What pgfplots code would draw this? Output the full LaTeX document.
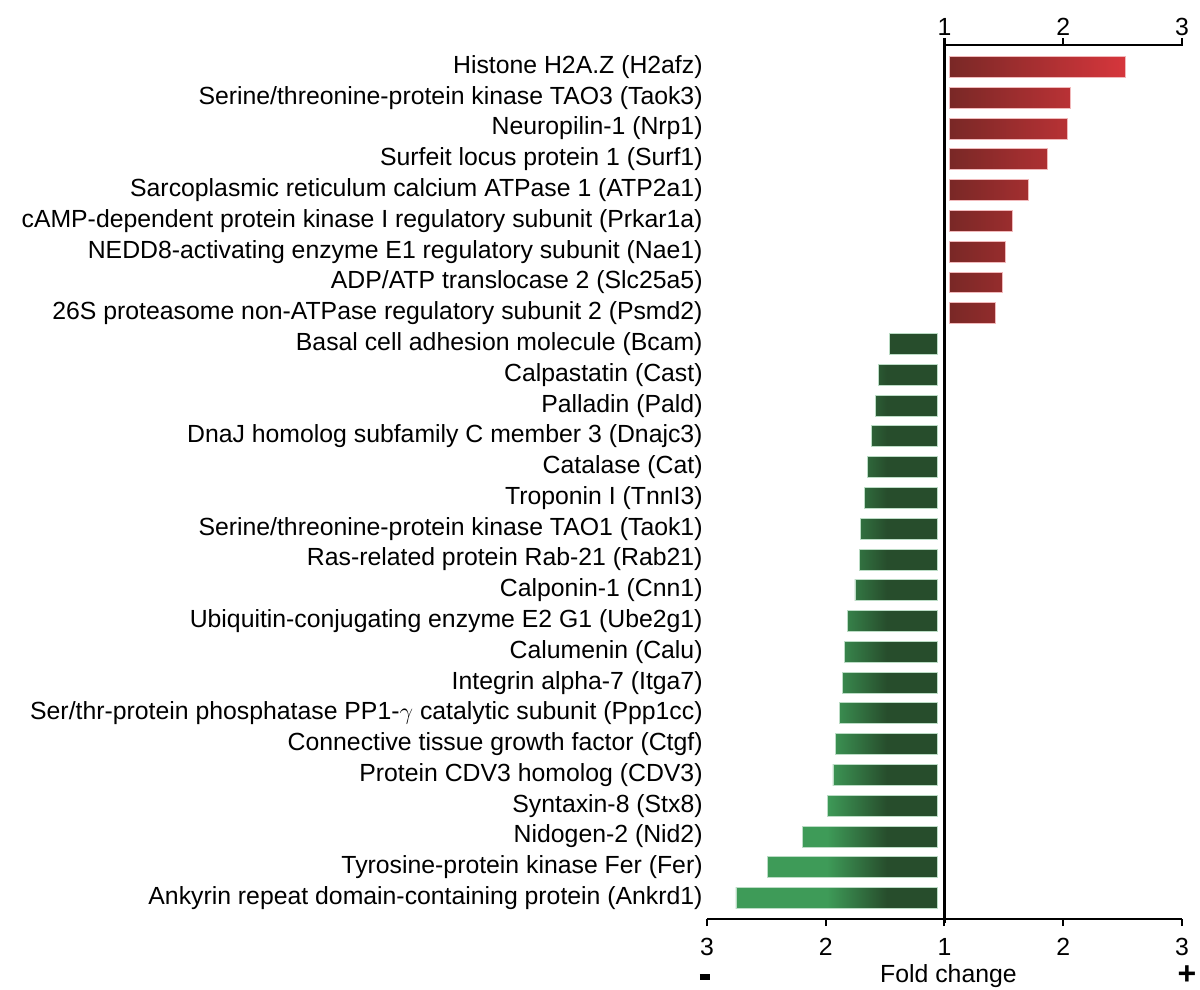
\documentclass[border=0pt]{standalone}
\usepackage{pgfplots}
\pgfplotsset{compat=1.18}
\usepackage{fontspec}
\setmainfont{Liberation Sans}
\definecolor{redL}{RGB}{121,40,38}
\definecolor{redR}{RGB}{214,54,60}
\definecolor{gL}{RGB}{62,155,88}
\definecolor{gD}{RGB}{39,77,44}
% colours of the green bars at their left ends (position on the absolute gradient)
\colorlet{cCast}{gD!86!gL}
\colorlet{cPald}{gD!80!gL}
\colorlet{cDnaj}{gD!75!gL}
\colorlet{cCat}{gD!67!gL}
\colorlet{cTnni}{gD!63!gL}
\colorlet{cTaok}{gD!56!gL}
\colorlet{cRab}{gD!54!gL}
\colorlet{cCnn}{gD!47!gL}
\colorlet{cUbe}{gD!34!gL}
\colorlet{cCalu}{gD!29!gL}
\colorlet{cItga}{gD!25!gL}
\colorlet{cPpp}{gD!20!gL}
\colorlet{cCtgf}{gD!15!gL}
\colorlet{cCdv}{gD!10!gL}
\colorlet{cStx}{gD!1!gL}
\pgfdeclarehorizontalshading{sCast}{100bp}{color(0bp)=(cCast); color(25bp)=(cCast); color(32.3bp)=(gD); color(100bp)=(gD)}
\pgfdeclarehorizontalshading{sPald}{100bp}{color(0bp)=(cPald); color(25bp)=(cPald); color(34.5bp)=(gD); color(100bp)=(gD)}
\pgfdeclarehorizontalshading{sDnaj}{100bp}{color(0bp)=(cDnaj); color(25bp)=(cDnaj); color(36.5bp)=(gD); color(100bp)=(gD)}
\pgfdeclarehorizontalshading{sCat}{100bp}{color(0bp)=(cCat); color(25bp)=(cCat); color(39.0bp)=(gD); color(100bp)=(gD)}
\pgfdeclarehorizontalshading{sTnni}{100bp}{color(0bp)=(cTnni); color(25bp)=(cTnni); color(40.3bp)=(gD); color(100bp)=(gD)}
\pgfdeclarehorizontalshading{sTaok}{100bp}{color(0bp)=(cTaok); color(25bp)=(cTaok); color(42.1bp)=(gD); color(100bp)=(gD)}
\pgfdeclarehorizontalshading{sRab}{100bp}{color(0bp)=(cRab); color(25bp)=(cRab); color(42.7bp)=(gD); color(100bp)=(gD)}
\pgfdeclarehorizontalshading{sCnn}{100bp}{color(0bp)=(cCnn); color(25bp)=(cCnn); color(44.4bp)=(gD); color(100bp)=(gD)}
\pgfdeclarehorizontalshading{sUbe}{100bp}{color(0bp)=(cUbe); color(25bp)=(cUbe); color(47.0bp)=(gD); color(100bp)=(gD)}
\pgfdeclarehorizontalshading{sCalu}{100bp}{color(0bp)=(cCalu); color(25bp)=(cCalu); color(48.0bp)=(gD); color(100bp)=(gD)}
\pgfdeclarehorizontalshading{sItga}{100bp}{color(0bp)=(cItga); color(25bp)=(cItga); color(48.6bp)=(gD); color(100bp)=(gD)}
\pgfdeclarehorizontalshading{sPpp}{100bp}{color(0bp)=(cPpp); color(25bp)=(cPpp); color(49.4bp)=(gD); color(100bp)=(gD)}
\pgfdeclarehorizontalshading{sCtgf}{100bp}{color(0bp)=(cCtgf); color(25bp)=(cCtgf); color(50.2bp)=(gD); color(100bp)=(gD)}
\pgfdeclarehorizontalshading{sCdv}{100bp}{color(0bp)=(cCdv); color(25bp)=(cCdv); color(50.9bp)=(gD); color(100bp)=(gD)}
\pgfdeclarehorizontalshading{sStx}{100bp}{color(0bp)=(cStx); color(25bp)=(cStx); color(52.1bp)=(gD); color(100bp)=(gD)}
\pgfdeclarehorizontalshading{sNid}{100bp}{color(0bp)=(gL); color(34.0bp)=(gL); color(56.3bp)=(gD); color(100bp)=(gD)}
\pgfdeclarehorizontalshading{sFer}{100bp}{color(0bp)=(gL); color(42.5bp)=(gL); color(60.2bp)=(gD); color(100bp)=(gD)}
\pgfdeclarehorizontalshading{sAnk}{100bp}{color(0bp)=(gL); color(47.6bp)=(gL); color(62.5bp)=(gD); color(100bp)=(gD)}
\begin{document}
\begin{tikzpicture}
\begin{axis}[
  scale only axis,
  width=237.5pt, height=437pt,
  xmin=-2, xmax=2,
  ymin=-0.715, ymax=27.68,
  y dir=reverse,
  clip=false,
  axis line style={draw=none},
  xtick={-2,-1,0,1,2},
  xticklabels={3,2,1,2,3},
  xtick pos=bottom,
  xtick align=outside,
  major tick length=3.5pt,
  xtick style={line width=1pt, black},
  ytick={0,...,27},
  ytick pos=left,
  ytick style={draw=none},
  tick label style={font=\fontsize{12.4}{14}\selectfont},
  yticklabel style={inner sep=0pt, xshift=-2pt},
  xticklabel style={inner sep=0pt, yshift=-6pt},
  yticklabels={
    Histone H2A.Z (H2afz),
    Serine/threonine-protein kinase TAO3 (Taok3),
    Neuropilin-1 (Nrp1),
    Surfeit locus protein 1 (Surf1),
    Sarcoplasmic reticulum calcium ATPase 1 (ATP2a1),
    cAMP-dependent protein kinase I regulatory subunit (Prkar1a)\hspace{3pt},
    NEDD8-activating enzyme E1 regulatory subunit (Nae1),
    ADP/ATP translocase 2 (Slc25a5),
    26S proteasome non-ATPase regulatory subunit 2 (Psmd2),
    Basal cell adhesion molecule (Bcam),
    Calpastatin (Cast),
    Palladin (Pald),
    DnaJ homolog subfamily C member 3 (Dnajc3),
    Catalase (Cat),
    Troponin I (TnnI3),
    Serine/threonine-protein kinase TAO1 (Taok1),
    Ras-related protein Rab-21 (Rab21),
    Calponin-1 (Cnn1),
    Ubiquitin-conjugating enzyme E2 G1 (Ube2g1),
    Calumenin (Calu),
    Integrin alpha-7 (Itga7),
    Ser/thr-protein phosphatase PP1-$\gamma$ catalytic subunit (Ppp1cc),
    Connective tissue growth factor (Ctgf),
    Protein CDV3 homolog (CDV3),
    Syntaxin-8 (Stx8),
    Nidogen-2 (Nid2),
    Tyrosine-protein kinase Fer (Fer),
    Ankyrin repeat domain-containing protein (Ankrd1)},
  rbar/.style={draw=redR!35!white, line width=0.45pt, left color=redL},
  gbar/.style={draw=gL!35!white, line width=0.45pt},
]
% ---- up-regulated (fold change - 1), bars start just right of the centre line
\addplot[rbar, right color=redR] coordinates {(0.040,-0.34) (1.520,-0.34) (1.520,0.34) (0.040,0.34)} -- cycle;
\addplot[rbar, right color=redR!69!redL] coordinates {(0.040,0.66) (1.057,0.66) (1.057,1.34) (0.040,1.34)} -- cycle;
\addplot[rbar, right color=redR!67!redL] coordinates {(0.040,1.66) (1.032,1.66) (1.032,2.34) (0.040,2.34)} -- cycle;
\addplot[rbar, right color=redR!56!redL] coordinates {(0.040,2.66) (0.863,2.66) (0.863,3.34) (0.040,3.34)} -- cycle;
\addplot[rbar, right color=redR!45!redL] coordinates {(0.040,3.66) (0.706,3.66) (0.706,4.34) (0.040,4.34)} -- cycle;
\addplot[rbar, right color=redR!36!redL] coordinates {(0.040,4.66) (0.571,4.66) (0.571,5.34) (0.040,5.34)} -- cycle;
\addplot[rbar, right color=redR!32!redL] coordinates {(0.040,5.66) (0.515,5.66) (0.515,6.34) (0.040,6.34)} -- cycle;
\addplot[rbar, right color=redR!30!redL] coordinates {(0.040,6.66) (0.487,6.66) (0.487,7.34) (0.040,7.34)} -- cycle;
\addplot[rbar, right color=redR!26!redL] coordinates {(0.040,7.66) (0.425,7.66) (0.425,8.34) (0.040,8.34)} -- cycle;
% ---- down-regulated (-(fold change - 1)), bars end just left of the centre line
\addplot[gbar, fill=gD] coordinates {(-0.465,8.66) (-0.061,8.66) (-0.061,9.34) (-0.465,9.34)} -- cycle;
\addplot[gbar, shading=sCast] coordinates {(-0.557,9.66) (-0.061,9.66) (-0.061,10.34) (-0.557,10.34)} -- cycle;
\addplot[gbar, shading=sPald] coordinates {(-0.585,10.66) (-0.061,10.66) (-0.061,11.34) (-0.585,11.34)} -- cycle;
\addplot[gbar, shading=sDnaj] coordinates {(-0.611,11.66) (-0.061,11.66) (-0.061,12.34) (-0.611,12.34)} -- cycle;
\addplot[gbar, shading=sCat] coordinates {(-0.650,12.66) (-0.061,12.66) (-0.061,13.34) (-0.650,13.34)} -- cycle;
\addplot[gbar, shading=sTnni] coordinates {(-0.672,13.66) (-0.061,13.66) (-0.061,14.34) (-0.672,14.34)} -- cycle;
\addplot[gbar, shading=sTaok] coordinates {(-0.706,14.66) (-0.061,14.66) (-0.061,15.34) (-0.706,15.34)} -- cycle;
\addplot[gbar, shading=sRab] coordinates {(-0.717,15.66) (-0.061,15.66) (-0.061,16.34) (-0.717,16.34)} -- cycle;
\addplot[gbar, shading=sCnn] coordinates {(-0.754,16.66) (-0.061,16.66) (-0.061,17.34) (-0.754,17.34)} -- cycle;
\addplot[gbar, shading=sUbe] coordinates {(-0.819,17.66) (-0.061,17.66) (-0.061,18.34) (-0.819,18.34)} -- cycle;
\addplot[gbar, shading=sCalu] coordinates {(-0.846,18.66) (-0.061,18.66) (-0.061,19.34) (-0.846,19.34)} -- cycle;
\addplot[gbar, shading=sItga] coordinates {(-0.863,19.66) (-0.061,19.66) (-0.061,20.34) (-0.863,20.34)} -- cycle;
\addplot[gbar, shading=sPpp] coordinates {(-0.888,20.66) (-0.061,20.66) (-0.061,21.34) (-0.888,21.34)} -- cycle;
\addplot[gbar, shading=sCtgf] coordinates {(-0.916,21.66) (-0.061,21.66) (-0.061,22.34) (-0.916,22.34)} -- cycle;
\addplot[gbar, shading=sCdv] coordinates {(-0.939,22.66) (-0.061,22.66) (-0.061,23.34) (-0.939,23.34)} -- cycle;
\addplot[gbar, shading=sStx] coordinates {(-0.987,23.66) (-0.061,23.66) (-0.061,24.34) (-0.987,24.34)} -- cycle;
\addplot[gbar, shading=sNid] coordinates {(-1.194,24.66) (-0.061,24.66) (-0.061,25.34) (-1.194,25.34)} -- cycle;
\addplot[gbar, shading=sFer] coordinates {(-1.492,25.66) (-0.061,25.66) (-0.061,26.34) (-1.492,26.34)} -- cycle;
\addplot[gbar, shading=sAnk] coordinates {(-1.756,26.66) (-0.061,26.66) (-0.061,27.34) (-1.756,27.34)} -- cycle;
% ---- axis decorations
\draw[line width=1pt] (axis cs:-2,27.68) -- (axis cs:2,27.68);
\draw[line width=1pt] (axis cs:0,-0.715) -- (axis cs:2,-0.715);
\draw[line width=1pt] (axis cs:1,-0.715) -- ([yshift=3.5pt]axis cs:1,-0.715);
\draw[line width=1pt] ([yshift=-0.5pt]axis cs:2,-0.715) -- ([yshift=3.5pt]axis cs:2,-0.715);
\draw[line width=1.2pt] ([yshift=3.5pt]axis cs:0,-0.715) -- ([yshift=-2pt]axis cs:0,27.68);
\node[anchor=base, inner sep=0pt, font=\fontsize{12.4}{14}\selectfont] at ([yshift=5pt]axis cs:0,-0.715) {1};
\node[anchor=base, inner sep=0pt, font=\fontsize{12.4}{14}\selectfont] at ([yshift=5pt]axis cs:1,-0.715) {2};
\node[anchor=base, inner sep=0pt, font=\fontsize{12.4}{14}\selectfont] at ([yshift=5pt]axis cs:2,-0.715) {3};
\node[anchor=base, inner sep=0pt, font=\fontsize{12.4}{14}\selectfont] at ([xshift=2pt,yshift=-31.5pt]axis cs:0,27.68) {Fold change};
\node[inner sep=0pt] at ([xshift=-1pt,yshift=-29pt]axis cs:-2,27.68) {\rule{5pt}{3pt}};
\node[inner sep=0pt, font=\fontsize{16}{18}\selectfont\bfseries] at ([xshift=2.5pt,yshift=-28pt]axis cs:2,27.68) {+};
\end{axis}
\pgfresetboundingbox
\path ([xshift=-353.5pt,yshift=-35.5pt]current axis.south west) rectangle ([xshift=9pt,yshift=22.5pt]current axis.north east);
\end{tikzpicture}
\end{document}
